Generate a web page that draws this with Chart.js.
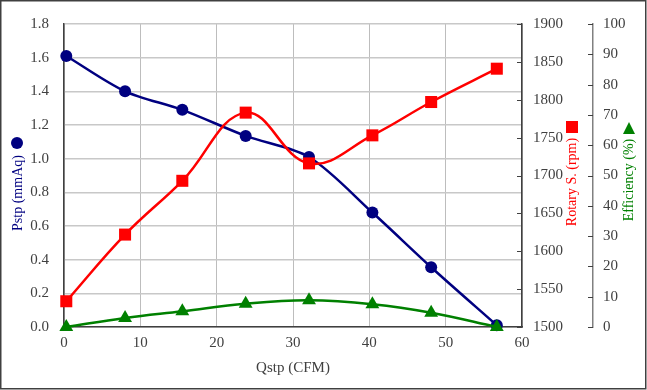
<!DOCTYPE html>
<html>
<head>
<meta charset="utf-8">
<script src="https://cdn.jsdelivr.net/npm/chart.js@4"></script>
<style>
  html, body { margin: 0; padding: 0; background: #fff; }
  #wrap { width: 647px; height: 390px; position: relative; }
</style>
</head>
<body>
<div id="wrap"><canvas id="fanChart"></canvas></div>
<script>
// Flow rate (CFM) for each measuring point
const qstp = [0.3, 8.0, 15.5, 23.8, 32.1, 40.4, 48.1, 56.7];
// Static pressure (mmAq)
const pstp = [1.61, 1.40, 1.29, 1.135, 1.01, 0.68, 0.355, 0.01];
// Rotary speed (rpm)
const rotary = [1534, 1622, 1693, 1783, 1716, 1753, 1797, 1841];
// Efficiency (%)
const efficiency = [0, 3.0, 5.2, 7.7, 8.8, 7.5, 4.7, 0];

const serif = "'Liberation Serif', 'DejaVu Serif', serif";
const axisGray = "#404040";

function toPoints(ys) {
  return qstp.map((x, i) => ({ x: x, y: ys[i] }));
}

// Axis titles (read bottom to top) with their marker, ticks and outer frame
const decorations = {
  id: "decorations",
  afterDraw(chart) {
    const ctx = chart.ctx;
    ctx.save();

    // little ticks pointing left on the right axes
    ctx.strokeStyle = axisGray;
    ctx.lineWidth = 1;
    ["y1", "y2"].forEach(id => {
      const s = chart.scales[id];
      s.ticks.forEach(t => {
        const py = Math.round(s.getPixelForValue(t.value)) + 0.5;
        ctx.beginPath();
        ctx.moveTo(s.left - 5, py);
        ctx.lineTo(s.left, py);
        ctx.stroke();
      });
    });

    function vtext(text, x, y, color) {
      ctx.save();
      ctx.translate(x, y);
      ctx.rotate(-Math.PI / 2);
      ctx.font = "14px " + serif;
      ctx.fillStyle = color;
      ctx.textAlign = "center";
      ctx.textBaseline = "middle";
      ctx.fillText(text, 0, 0);
      ctx.restore();
    }

    vtext("Pstp (mmAq)", 18, 193, "#000080");
    vtext("Rotary S. (rpm)", 572, 182, "#ff0000");
    vtext("Efficiency (%)", 629, 180, "#008000");

    // markers next to the titles
    ctx.fillStyle = "#000080";
    ctx.beginPath();
    ctx.arc(17, 143, 6, 0, Math.PI * 2);
    ctx.fill();

    ctx.fillStyle = "#ff0000";
    ctx.fillRect(566, 121, 12, 12);

    ctx.fillStyle = "#008000";
    ctx.beginPath();
    ctx.moveTo(629, 122);
    ctx.lineTo(635, 134);
    ctx.lineTo(623, 134);
    ctx.closePath();
    ctx.fill();

    // outer frame
    ctx.strokeStyle = axisGray;
    ctx.lineWidth = 1.5;
    ctx.strokeRect(0.75, 0.75, 645, 388);
    ctx.restore();
  }
};

const tickFont = { family: serif, size: 15 };

new Chart(document.getElementById("fanChart"), {
  type: "line",
  data: {
    datasets: [
      {
        label: "Pstp",
        data: toPoints(pstp),
        yAxisID: "y",
        borderColor: "#000080",
        backgroundColor: "#000080",
        borderWidth: 2.5,
        pointStyle: "circle",
        pointRadius: 6,
        pointBorderWidth: 0,
        tension: 0.3,
        clip: false,
        order: 3
      },
      {
        label: "Rotary S.",
        data: toPoints(rotary),
        yAxisID: "y1",
        borderColor: "#ff0000",
        backgroundColor: "#ff0000",
        borderWidth: 2.5,
        pointStyle: "rect",
        pointRadius: 8.5,
        pointBorderWidth: 0,
        tension: 0.4,
        clip: false,
        order: 2
      },
      {
        label: "Efficiency",
        data: toPoints(efficiency),
        yAxisID: "y2",
        borderColor: "#008000",
        backgroundColor: "#008000",
        borderWidth: 2.5,
        pointStyle: "triangle",
        pointRadius: 8,
        pointBorderWidth: 0,
        tension: 0.4,
        clip: false,
        order: 1
      }
    ]
  },
  options: {
    responsive: true,
    maintainAspectRatio: false,
    animation: false,
    layout: { padding: { top: 19, left: 0, right: 0, bottom: 0 } },
    plugins: {
      legend: { display: false },
      tooltip: { enabled: false }
    },
    scales: {
      x: {
        type: "linear",
        min: 0,
        max: 60,
        afterFit: s => { s.height = 63; },
        ticks: { stepSize: 10, color: axisGray, font: tickFont, padding: 7 },
        grid: { color: "#bdbdbd", lineWidth: 1, drawTicks: false },
        border: { color: axisGray, width: 1.5 },
        title: {
          display: true,
          text: "Qstp (CFM)",
          color: axisGray,
          font: { family: serif, size: 15 },
          padding: { top: 0, bottom: 13 }
        }
      },
      y: {
        position: "left",
        min: 0,
        max: 1.8,
        afterFit: s => { s.width = 64; },
        ticks: {
          stepSize: 0.2,
          color: axisGray,
          font: tickFont,
          padding: 15,
          callback: v => v.toFixed(1)
        },
        grid: { color: "#c8c8c8", lineWidth: 1.5, drawTicks: false },
        border: { color: axisGray, width: 1.5 }
      },
      y1: {
        position: "right",
        min: 1500,
        max: 1900,
        afterFit: s => { s.width = 71; },
        ticks: {
          stepSize: 50,
          color: axisGray,
          font: tickFont,
          padding: 11,
          callback: v => String(v)
        },
        grid: { drawOnChartArea: false, drawTicks: false },
        border: { color: axisGray, width: 1.5 }
      },
      y2: {
        position: "right",
        min: 0,
        max: 100,
        afterFit: s => { s.width = 54; },
        ticks: { stepSize: 10, color: axisGray, font: tickFont, padding: 10 },
        grid: { drawOnChartArea: false, drawTicks: false },
        border: { color: "#808080", width: 1.5 }
      }
    }
  },
  plugins: [decorations]
});
</script>
</body>
</html>
